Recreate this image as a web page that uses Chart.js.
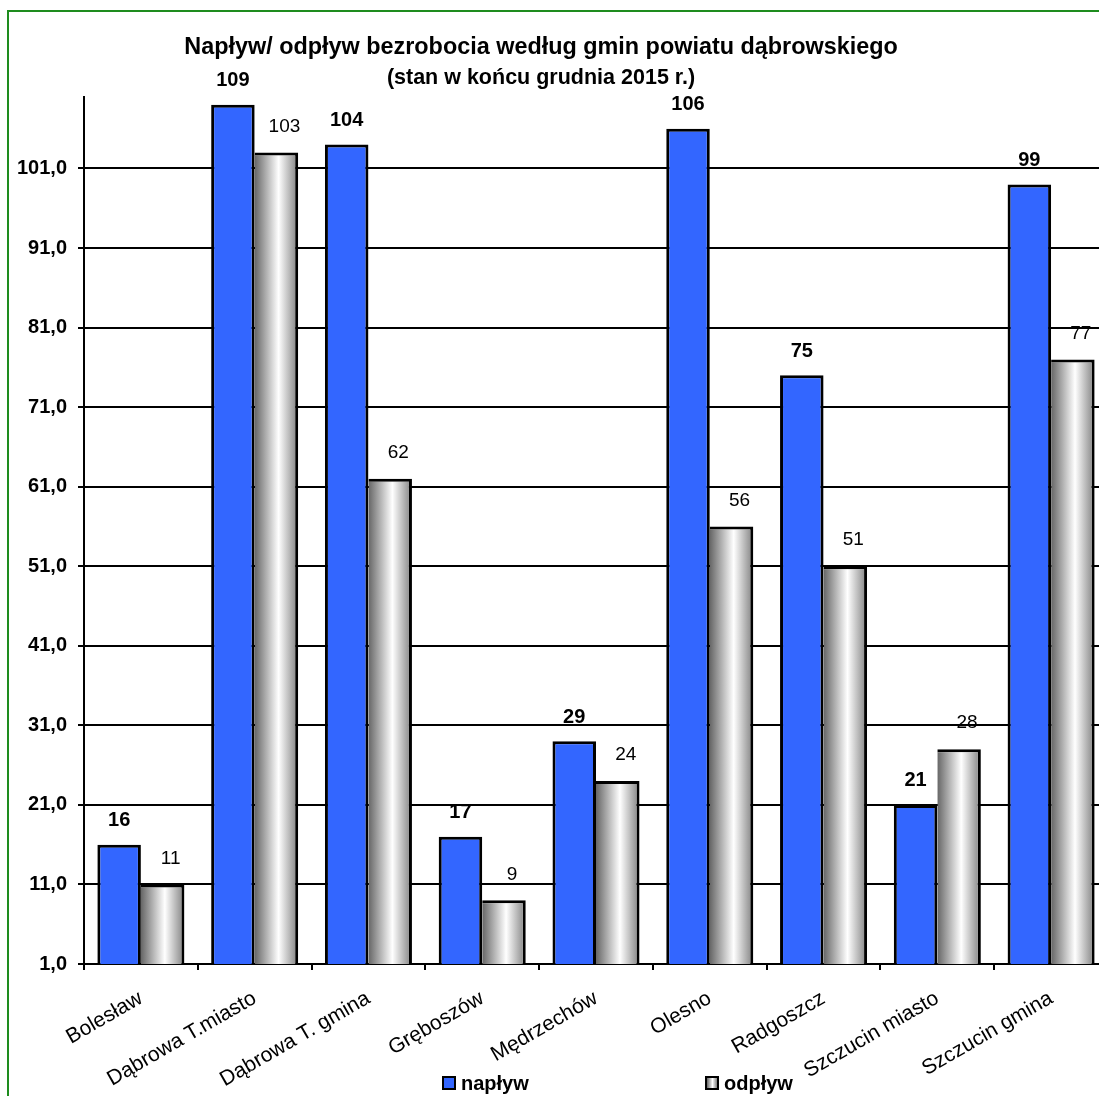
<!DOCTYPE html>
<html>
<head>
<meta charset="utf-8">
<script src="https://cdn.jsdelivr.net/npm/chart.js@4.4.1/dist/chart.umd.min.js"></script>
<style>
  html, body { margin: 0; padding: 0; background: #fff; overflow: hidden; width: 1099px; height: 1096px; }
  #frame { position: absolute; left: 7px; top: 10px; width: 1200px; height: 1200px;
           border-left: 2px solid #1e8c1e; border-top: 2px solid #1e8c1e; }
  #box { position: absolute; left: -26px; top: 0; width: 1134px; height: 1096px; }
  #legend { position: absolute; left: 0; top: 1071px; font: bold 20px Arial, 'Liberation Sans', sans-serif; }
  .item { position: absolute; top: 0; height: 24px; white-space: nowrap; display: flex; align-items: center; }
  .swatch { width: 10px; height: 10px; border: 2px solid #000; margin-right: 5px; }
</style>
</head>
<body>
<div id="frame"></div>
<div id="box"><canvas id="barChart"></canvas></div>
<div id="legend"></div>
<script>
const FONT = "Arial, 'Liberation Sans', sans-serif";

const titleText = 'Napływ/ odpływ bezrobocia według gmin powiatu dąbrowskiego';
const subtitleText = '(stan w końcu grudnia 2015 r.)';

const gminy = ['Bolesław', 'Dąbrowa T.miasto', 'Dąbrowa T. gmina', 'Gręboszów', 'Mędrzechów',
               'Olesno', 'Radgoszcz', 'Szczucin miasto', 'Szczucin gmina'];
const seriesNames = ['napływ', 'odpływ'];
const naplyw = [16, 109, 104, 17, 29, 106, 75, 21, 99];
const odplyw = [11, 103, 62, 9, 24, 56, 51, 28, 77];
const yTicks = [1, 11, 21, 31, 41, 51, 61, 71, 81, 91, 101];

const BLUE = '#3366ff';
const CAT_PCT = 0.765;

function greyGradient(context) {
    const chart = context.chart;
    const xs = chart.scales.x;
    if (!xs || !xs.width) return '#dddddd';
    const step = xs.width / gminy.length;
    const center = xs.getPixelForValue(context.dataIndex);
    const w = step * CAT_PCT / 2;
    const g = chart.ctx.createLinearGradient(center, 0, center + w, 0);
    g.addColorStop(0, '#666666');
    g.addColorStop(0.55, '#ffffff');
    g.addColorStop(1, '#808080');
    return g;
}

// etykiety wartości nad słupkami
const valueLabels = {
    id: 'valueLabels',
    afterDatasetsDraw(chart) {
        const ctx = chart.ctx;
        ctx.save();
        ctx.fillStyle = '#000';
        ctx.textAlign = 'center';
        ctx.textBaseline = 'middle';
        chart.data.datasets.forEach((ds, di) => {
            const meta = chart.getDatasetMeta(di);
            ctx.font = di === 0 ? 'bold 20px ' + FONT : '19px ' + FONT;
            meta.data.forEach((bar, i) => {
                const dx = di === 0 ? 0 : 8;
                const dy = di === 0 ? 24 : 26;
                ctx.fillText(ds.data[i], bar.x + dx, bar.y - dy);
            });
        });
        ctx.restore();
    }
};

const ctx = document.getElementById('barChart').getContext('2d');
new Chart(ctx, {
    type: 'bar',
    data: {
        labels: gminy,
        datasets: [{
            label: seriesNames[0],
            data: naplyw,
            backgroundColor: BLUE,
            borderColor: '#000',
            borderWidth: 3,
            categoryPercentage: CAT_PCT,
            barPercentage: 1
        }, {
            label: seriesNames[1],
            data: odplyw,
            backgroundColor: greyGradient,
            borderColor: '#000',
            borderWidth: 3,
            borderSkipped: 'left',
            categoryPercentage: CAT_PCT,
            barPercentage: 1
        }]
    },
    options: {
        responsive: true,
        maintainAspectRatio: false,
        animation: false,
        layout: { padding: 0 },
        plugins: {
            legend: { display: false },
            tooltip: { enabled: false },
            title: {
                display: true,
                text: titleText,
                color: '#000',
                font: { family: FONT, size: 23.4, weight: 'bold', lineHeight: 1.2 },
                padding: { top: 34, bottom: 0 }
            },
            subtitle: {
                display: true,
                text: subtitleText,
                color: '#000',
                font: { family: FONT, size: 21.5, weight: 'bold', lineHeight: 1.2 },
                padding: { top: 3, bottom: 6 }
            }
        },
        scales: {
            x: {
                grid: { drawOnChartArea: false, drawTicks: true, tickLength: 6, color: '#000', lineWidth: 2, offset: true },
                border: { color: '#000', width: 2 },
                ticks: {
                    color: '#000',
                    font: { family: FONT, size: 21 },
                    minRotation: 30,
                    maxRotation: 30,
                    autoSkip: false,
                    padding: 16
                },
                afterFit(scale) { scale.height = 132; }
            },
            y: {
                min: 1,
                max: 110,
                grid: { color: '#000', lineWidth: 2, tickLength: 6, drawTicks: true },
                border: { color: '#000', width: 2 },
                ticks: {
                    color: '#000',
                    font: { family: FONT, size: 20, weight: 'bold' },
                    padding: 11,
                    callback: v => v.toFixed(1).replace('.', ',')
                },
                afterBuildTicks(scale) { scale.ticks = yTicks.map(v => ({ value: v })); },
                afterFit(scale) { scale.width = 110; }
            }
        }
    },
    plugins: [valueLabels]
});

// legenda
const legendLeft = [442, 705];
const swatchBg = [BLUE, 'linear-gradient(to right, #666666, #ffffff 55%, #808080)'];
const legend = document.getElementById('legend');
seriesNames.forEach((name, i) => {
    const item = document.createElement('div');
    item.className = 'item';
    item.style.left = legendLeft[i] + 'px';
    const sw = document.createElement('span');
    sw.className = 'swatch';
    sw.style.background = swatchBg[i];
    const txt = document.createElement('span');
    txt.textContent = name;
    item.appendChild(sw);
    item.appendChild(txt);
    legend.appendChild(item);
});
</script>
</body>
</html>
